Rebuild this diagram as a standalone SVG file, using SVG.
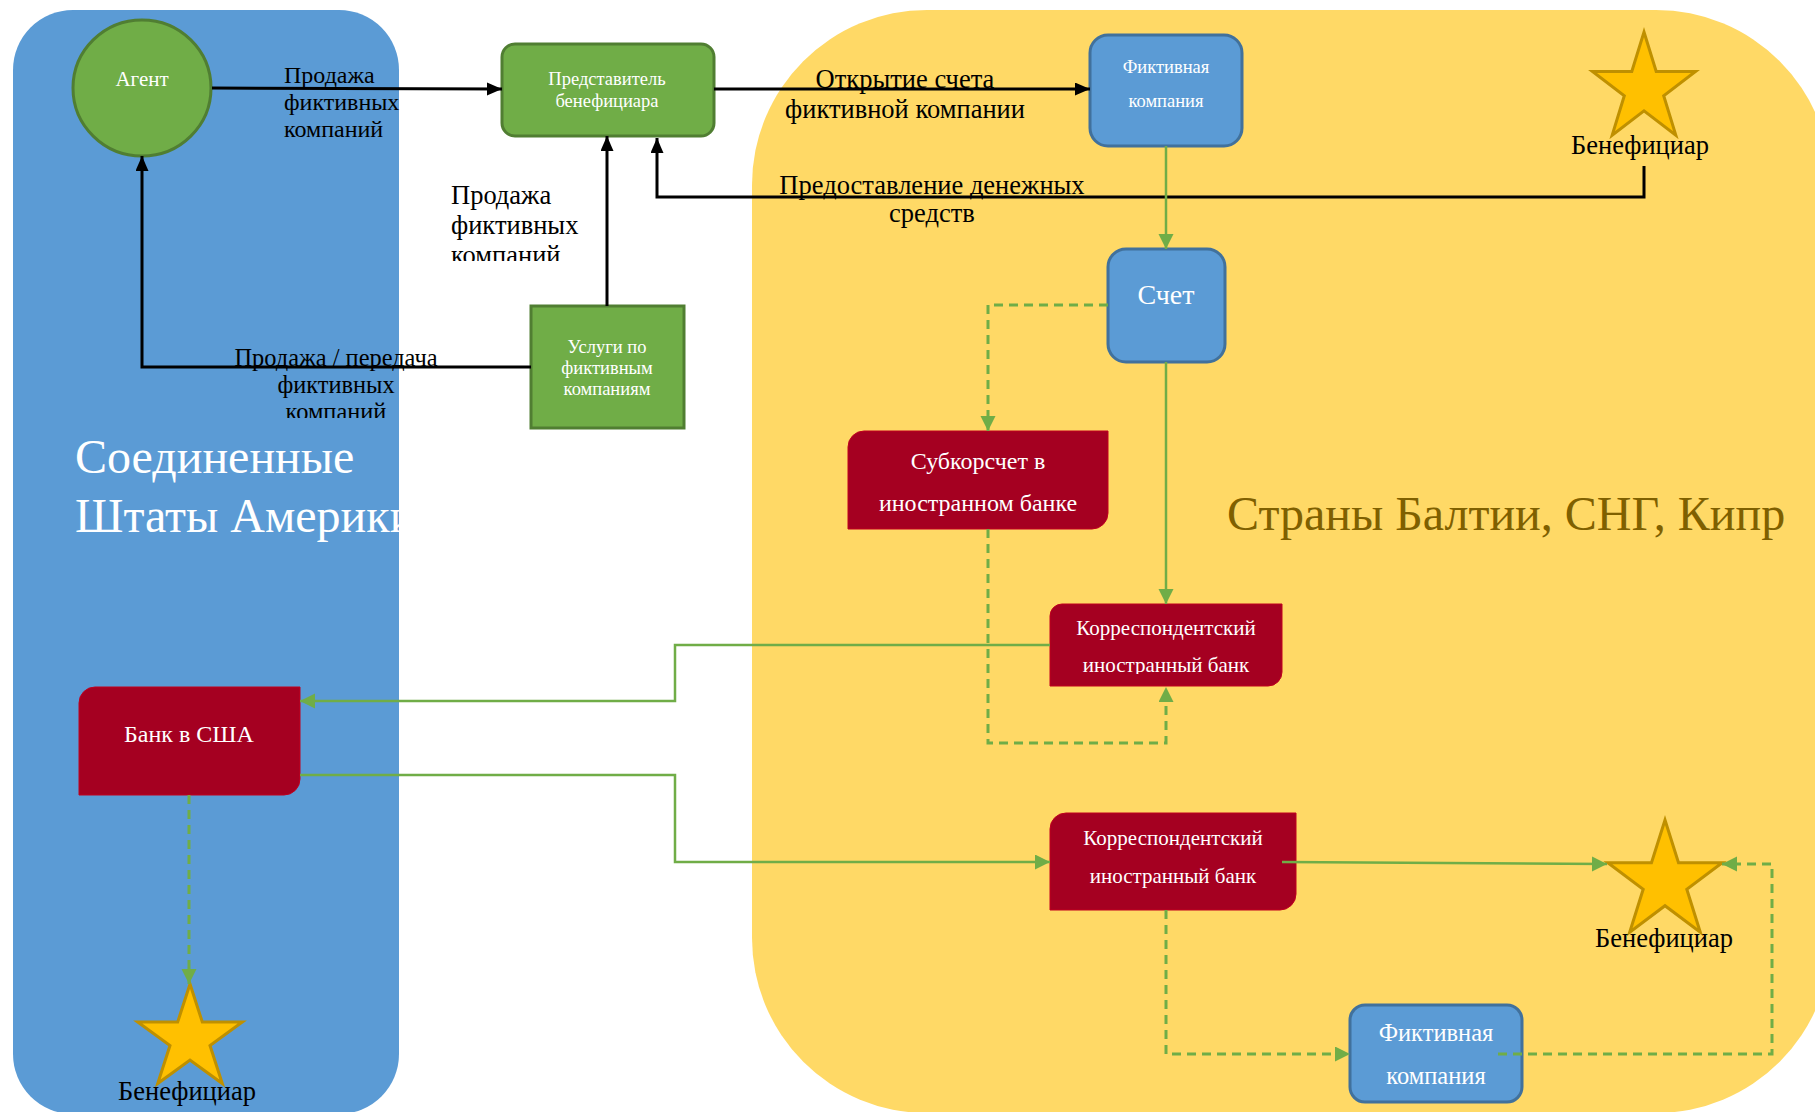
<svg xmlns="http://www.w3.org/2000/svg" width="1815" height="1112" viewBox="0 0 1815 1112">
<style>
text{font-family:"Liberation Serif","Times New Roman",serif}
.w{fill:#fff}
.k{fill:#000}
.g{fill:#70AD47;stroke:#507E32;stroke-width:3}
.b{fill:#5B9BD5;stroke:#41719C;stroke-width:3}
.r{fill:#A50021;stroke:#C0001E;stroke-width:1}
.s{fill:#FFC000;stroke:#BF9000;stroke-width:3;stroke-linejoin:miter}
.cb{fill:none;stroke:#000;stroke-width:3;marker-end:url(#ab)}
.cg{fill:none;stroke:#70AD47;stroke-width:2.5;marker-end:url(#ag)}
.cd{fill:none;stroke:#70AD47;stroke-width:3;stroke-dasharray:9 6;marker-end:url(#ag)}
.m{text-anchor:middle}
</style>
<defs>
<marker id="ab" markerUnits="userSpaceOnUse" markerWidth="16" markerHeight="14" refX="15" refY="6.5" orient="auto"><path d="M0,0 L15,6.5 L0,13 z" fill="#000"/></marker>
<marker id="ag" markerUnits="userSpaceOnUse" markerWidth="16" markerHeight="16" refX="15" refY="7.5" orient="auto"><path d="M0,0 L15,7.5 L0,15 z" fill="#70AD47"/></marker>
<clipPath id="clipUS"><rect x="13" y="10" width="386" height="1104" rx="60"/></clipPath>
<clipPath id="clipL4"><rect x="440" y="170" width="220" height="91"/></clipPath>
<clipPath id="clipL5"><rect x="200" y="340" width="290" height="78"/></clipPath>
<clipPath id="clipK1"><rect x="1050" y="604" width="232" height="70"/></clipPath>
</defs>

<g id="panels">
<rect id="panel-usa" x="13" y="10" width="386" height="1104" rx="60" fill="#5B9BD5"/>
<rect id="panel-baltic" x="752" y="10" width="1079" height="1103" rx="175" fill="#FFD966"/>
<text clip-path="url(#clipUS)" x="75" y="473" font-size="48" class="w">Соединенные</text>
<text clip-path="url(#clipUS)" x="75" y="532" font-size="48" class="w">Штаты Америки</text>
<text x="1227" y="530" font-size="48" fill="#7F6000">Страны Балтии, СНГ, Кипр</text>
</g>

<g id="node-agent">
<ellipse cx="142" cy="88" rx="69" ry="68" class="g"/>
<text x="142" y="86" font-size="21" class="w m">Агент</text>
</g>
<g id="node-representative">
<rect x="502" y="44" width="212" height="92" rx="13" class="g"/>
<text x="607" y="85" font-size="18.5" class="w m">Представитель</text>
<text x="607" y="107" font-size="18.5" class="w m">бенефициара</text>
</g>
<g id="node-services">
<rect x="531" y="306" width="153" height="122" class="g"/>
<text x="607" y="353" font-size="18.5" class="w m">Услуги по</text>
<text x="607" y="374" font-size="18.5" class="w m">фиктивным</text>
<text x="607" y="395" font-size="18.5" class="w m">компаниям</text>
</g>
<g id="node-fict1">
<rect x="1090" y="35" width="152" height="111" rx="18" class="b"/>
<text x="1166" y="73" font-size="18.5" class="w m">Фиктивная</text>
<text x="1166" y="107" font-size="18.5" class="w m">компания</text>
</g>
<g id="node-benef1">
<polygon class="s" points="1644,32 1656.2,71.4 1695.5,71.4 1663.7,95.7 1675.8,135.1 1644,110.8 1612.2,135.1 1624.3,95.7 1592.5,71.4 1631.8,71.4"/>
<text x="1640" y="154" font-size="26.5" class="k m">Бенефициар</text>
</g>
<g id="node-account">
<rect x="1108" y="249" width="117" height="113" rx="18" class="b"/>
<text x="1166" y="304" font-size="28" class="w m">Счет</text>
</g>
<g id="node-subcorr">
<path class="r" d="M864,431 H1108 V513 A16,16 0 0 1 1092,529 H848 V447 A16,16 0 0 1 864,431 Z"/>
<text x="978" y="469" font-size="24" class="w m">Субкорсчет в</text>
<text x="978" y="511" font-size="24" class="w m">иностранном банке</text>
</g>
<g id="node-corr1">
<path class="r" d="M1062,604 H1282 V672 A14,14 0 0 1 1268,686 H1050 V616 A12,12 0 0 1 1062,604 Z"/>
<text x="1166" y="635" font-size="21" class="w m">Корреспондентский</text>
<text clip-path="url(#clipK1)" x="1166" y="672" font-size="21" class="w m">иностранный банк</text>
</g>
<g id="node-bank-usa">
<path class="r" d="M95,687 H300 V779 A16,16 0 0 1 284,795 H79 V703 A16,16 0 0 1 95,687 Z"/>
<text x="189" y="742" font-size="24" class="w m">Банк в США</text>
</g>
<g id="node-benef3">
<polygon class="s" points="190,984 202.3,1022 242.3,1022 210,1045.5 222.3,1083.5 190,1060 157.7,1083.5 170,1045.5 137.7,1022 177.7,1022"/>
<text x="187" y="1100" font-size="26.5" class="k m">Бенефициар</text>
</g>
<g id="node-corr2">
<path class="r" d="M1066,813 H1296 V894 A16,16 0 0 1 1280,910 H1050 V829 A16,16 0 0 1 1066,813 Z"/>
<text x="1173" y="845" font-size="21" class="w m">Корреспондентский</text>
<text x="1173" y="883" font-size="21" class="w m">иностранный банк</text>
</g>
<g id="node-benef2">
<polygon class="s" points="1665,820 1678.5,862.8 1722.2,862.8 1686.8,889.3 1700.3,932.2 1665,905.7 1629.7,932.2 1643.2,889.3 1607.8,862.8 1651.5,862.8"/>
<text x="1664" y="947" font-size="26.5" class="k m">Бенефициар</text>
</g>
<g id="node-fict2">
<rect x="1350" y="1005" width="172" height="97" rx="15" class="b"/>
<text x="1436" y="1041" font-size="24.5" class="w m">Фиктивная</text>
<text x="1436" y="1084" font-size="24.5" class="w m">компания</text>
</g>

<g id="connectors">
<path class="cb" d="M212,88 L502,89"/>
<path class="cb" d="M714,89 L1090,89"/>
<path class="cb" d="M1644,166 V197 H657 V138"/>
<path class="cb" d="M607,306 V136"/>
<path class="cb" d="M531,367 H142 V156"/>
<path class="cg" d="M1166,146 V249"/>
<path class="cd" d="M1108,305 H988 V431"/>
<path class="cg" d="M1166,362 V604"/>
<path class="cd" d="M988,529 V743 H1166 V687"/>
<path class="cg" d="M1050,645 H675 V701 H300"/>
<path class="cg" d="M300,775 H675 V862 H1050"/>
<path class="cd" d="M189,795 V984"/>
<path class="cg" d="M1282,862 L1607,864"/>
<path class="cd" d="M1166,910 V1054 H1350"/>
<path class="cd" d="M1498,1054 H1772 V864 H1722"/>
</g>

<g id="labels">
<text x="284" y="83" font-size="24" class="k">Продажа</text>
<text x="284" y="110" font-size="24" class="k">фиктивных</text>
<text x="284" y="137" font-size="24" class="k">компаний</text>
<text x="905" y="88" font-size="26.5" class="k m">Открытие счета</text>
<text x="905" y="118" font-size="26.5" class="k m">фиктивной компании</text>
<text x="932" y="194" font-size="26.5" class="k m">Предоставление денежных</text>
<text x="932" y="222" font-size="26.5" class="k m">средств</text>
<g clip-path="url(#clipL4)">
<text x="451" y="204" font-size="26.5" class="k">Продажа</text>
<text x="451" y="234" font-size="26.5" class="k">фиктивных</text>
<text x="451" y="264" font-size="26.5" class="k">компаний</text>
</g>
<g clip-path="url(#clipL5)">
<text x="336" y="366" font-size="24.4" class="k m">Продажа / передача</text>
<text x="336" y="393" font-size="24.4" class="k m">фиктивных</text>
<text x="336" y="420" font-size="24.4" class="k m">компаний</text>
</g>
</g>
</svg>
